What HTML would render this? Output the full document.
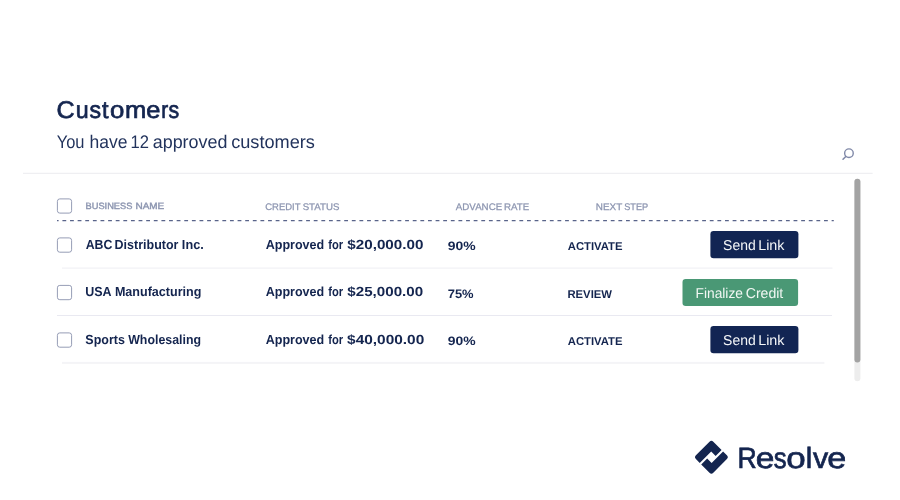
<!DOCTYPE html>
<html lang="en">
<head>
<meta charset="utf-8">
<title>Customers</title>
<style>
*{box-sizing:border-box;margin:0;padding:0}
html,body{width:900px;height:500px;background:#fff;overflow:hidden}
body{position:relative;font-family:"Liberation Sans",sans-serif;color:#14254f}
.t{position:absolute;left:0;white-space:nowrap;line-height:1;transform-origin:0 0;text-rendering:geometricPrecision}
#art{position:absolute;left:0;top:0}
</style>
</head>
<body>
<svg id="art" width="900" height="500" viewBox="0 0 900 500">
<!-- top rule -->
<rect x="23" y="172.8" width="849.6" height="1" fill="#ebebef"/>
<!-- search icon -->
<g fill="none" stroke="#8089a8" stroke-linecap="round">
<circle cx="848.95" cy="153.2" r="4.3" stroke-width="1.4"/>
<path d="M845.8 156.4 L843 159.3" stroke-width="1.5"/>
</g>
<!-- dashed header rule -->
<line x1="57" y1="220.55" x2="833.8" y2="220.55" stroke="#59648a" stroke-width="1.25" stroke-dasharray="3.808 3.808" stroke-dashoffset="2.2"/>
<!-- checkboxes -->
<g fill="#fff" stroke="#969db6" stroke-width="1">
<rect x="57.4" y="198.9" width="14.2" height="14.2" rx="2.4"/>
<rect x="57.4" y="237.9" width="14.2" height="14.3" rx="2.4"/>
<rect x="57.4" y="285.4" width="14.2" height="14.3" rx="2.4"/>
<rect x="57.4" y="332.9" width="14.2" height="14.3" rx="2.4"/>
</g>
<!-- row separators -->
<rect x="62" y="267.6" width="770.5" height="1" fill="#eeeef3"/>
<rect x="57" y="315" width="775" height="1" fill="#e9e9f1"/>
<rect x="62" y="361.9" width="762.4" height="2" fill="#f4f4f7"/>
<!-- buttons -->
<rect x="710.4" y="231.1" width="88" height="27.2" rx="3.2" fill="#122553"/>
<rect x="682.5" y="278.9" width="115.6" height="27" rx="3.2" fill="#4a9875"/>
<rect x="710.4" y="326.1" width="88" height="27.2" rx="3.2" fill="#122553"/>
<!-- scrollbar -->
<rect x="854.4" y="178.7" width="6" height="202.5" rx="3" fill="#ededed"/>
<rect x="854.4" y="178.7" width="6" height="183.7" rx="3" fill="#a3a3a3"/>
<!-- logo mark -->
<g transform="translate(711.4,457.2) rotate(-45)" fill="#14254f">
<path d="M-9.6 -12.3 H9.6 Q12.3 -12.3 12.3 -9.6 V2.1 H3.9 V-4.2 H-12.3 V-9.6 Q-12.3 -12.3 -9.6 -12.3 Z"/>
<path d="M9.6 12.3 H-9.6 Q-12.3 12.3 -12.3 9.6 V-2.1 H-3.9 V4.2 H12.3 V9.6 Q12.3 12.3 9.6 12.3 Z"/>
</g>
</svg>
<div class="g"><span class="t" id="t0" style="top:99px;font-size:24.09px;color:#14254f;-webkit-text-stroke:0.7px #14254f;transform:translateX(56.39px) scaleX(1.0432)">C</span><span class="t" id="t1" style="top:99px;font-size:24.09px;color:#14254f;-webkit-text-stroke:0.7px #14254f;transform:translateX(75.74px) scaleX(0.9650)">u</span><span class="t" id="t2" style="top:99px;font-size:24.09px;color:#14254f;-webkit-text-stroke:0.7px #14254f;transform:translateX(89.44px) scaleX(0.9598)">s</span><span class="t" id="t3" style="top:99px;font-size:24.09px;color:#14254f;-webkit-text-stroke:0.7px #14254f;transform:translateX(101.96px) scaleX(0.9733)">t</span><span class="t" id="t4" style="top:99px;font-size:24.09px;color:#14254f;-webkit-text-stroke:0.7px #14254f;transform:translateX(109.92px) scaleX(1.0690)">o</span><span class="t" id="t5" style="top:99px;font-size:24.09px;color:#14254f;-webkit-text-stroke:0.7px #14254f;transform:translateX(124.91px) scaleX(1.0615)">m</span><span class="t" id="t6" style="top:99px;font-size:24.09px;color:#14254f;-webkit-text-stroke:0.7px #14254f;transform:translateX(146.37px) scaleX(1.0554)">e</span><span class="t" id="t7" style="top:99px;font-size:24.09px;color:#14254f;-webkit-text-stroke:0.7px #14254f;transform:translateX(161.17px) scaleX(0.8655)">r</span><span class="t" id="t8" style="top:99px;font-size:24.09px;color:#14254f;-webkit-text-stroke:0.7px #14254f;transform:translateX(168.39px) scaleX(0.8872)">s</span></div>
<div class="g"><span class="t" id="t9" style="top:133px;font-size:18.25px;color:#22335c;transform:translateX(56.75px) scaleX(0.9009)">You</span> <span class="t" id="t10" style="top:133px;font-size:18.25px;color:#22335c;transform:translateX(89.57px) scaleX(0.9583)">have</span> <span class="t" id="t11" style="top:133px;font-size:18.25px;color:#22335c;transform:translateX(130.45px) scaleX(0.9086)">12</span> <span class="t" id="t12" style="top:133px;font-size:18.25px;color:#22335c;transform:translateX(152.74px) scaleX(0.9814)">approved</span> <span class="t" id="t13" style="top:133px;font-size:18.25px;color:#22335c;transform:translateX(231.19px) scaleX(0.9942)">customers</span></div>
<div class="g"><span class="t" id="t14" style="top:202px;font-size:9.20px;color:#8c95b0;-webkit-text-stroke:0.4px #8c95b0;transform:translateX(85.51px) scaleX(1.0084)">BUSINESS</span> <span class="t" id="t15" style="top:202px;font-size:9.20px;color:#8c95b0;-webkit-text-stroke:0.4px #8c95b0;transform:translateX(135.47px) scaleX(1.0835)">NAME</span></div>
<div class="g"><span class="t" id="t16" style="top:203px;font-size:9.56px;color:#8c95b0;-webkit-text-stroke:0.25px #8c95b0;transform:translateX(265.25px) scaleX(0.9906)">CREDIT</span> <span class="t" id="t17" style="top:203px;font-size:9.56px;color:#8c95b0;-webkit-text-stroke:0.25px #8c95b0;transform:translateX(302.65px) scaleX(1.0149)">STATUS</span></div>
<div class="g"><span class="t" id="t18" style="top:203px;font-size:9.56px;color:#8c95b0;-webkit-text-stroke:0.25px #8c95b0;transform:translateX(455.85px) scaleX(1.0190)">ADVANCE</span> <span class="t" id="t19" style="top:203px;font-size:9.56px;color:#8c95b0;-webkit-text-stroke:0.25px #8c95b0;transform:translateX(504.09px) scaleX(1.0176)">RATE</span></div>
<div class="g"><span class="t" id="t20" style="top:203px;font-size:9.56px;color:#8c95b0;-webkit-text-stroke:0.25px #8c95b0;transform:translateX(595.80px) scaleX(1.0367)">NEXT</span> <span class="t" id="t21" style="top:203px;font-size:9.56px;color:#8c95b0;-webkit-text-stroke:0.25px #8c95b0;transform:translateX(624.22px) scaleX(0.9629)">STEP</span></div>
<div class="g"><span class="t" id="t22" style="top:238px;font-size:13.14px;font-weight:bold;color:#14254f;transform:translateX(85.63px) scaleX(0.9393)">ABC</span> <span class="t" id="t23" style="top:238px;font-size:13.14px;font-weight:bold;color:#14254f;transform:translateX(114.61px) scaleX(0.9508)">Distributor</span> <span class="t" id="t24" style="top:238px;font-size:13.14px;font-weight:bold;color:#14254f;transform:translateX(181.85px) scaleX(0.9670)">Inc.</span></div>
<div class="g"><span class="t" id="t25" style="top:238px;font-size:13.14px;font-weight:bold;color:#14254f;transform:translateX(265.64px) scaleX(0.9566)">Approved</span> <span class="t" id="t26" style="top:238px;font-size:13.14px;font-weight:bold;color:#14254f;transform:translateX(328.17px) scaleX(0.8518)">for</span> <span class="t" id="t27" style="top:238px;font-size:13.14px;font-weight:bold;color:#14254f;transform:translateX(347.29px) scaleX(1.1593)">$20,000.00</span></div>
<div class="g"><span class="t" id="t28" style="top:240px;font-size:12.26px;font-weight:bold;color:#14254f;transform:translateX(447.84px) scaleX(1.1354)">90%</span></div>
<div class="g"><span class="t" id="t29" style="top:242px;font-size:11.39px;font-weight:bold;color:#14254f;transform:translateX(567.78px) scaleX(0.9925)">ACTIVATE</span></div>
<div class="g"><span class="t" id="t30" style="top:239px;font-size:14.31px;color:#f4f6f8;transform:translateX(723.07px) scaleX(0.9777)">Send</span> <span class="t" id="t31" style="top:239px;font-size:14.31px;color:#f4f6f8;transform:translateX(758.16px) scaleX(1.0034)">Link</span></div>
<div class="g"><span class="t" id="t32" style="top:285px;font-size:13.14px;font-weight:bold;color:#14254f;transform:translateX(85.21px) scaleX(0.9524)">USA</span> <span class="t" id="t33" style="top:285px;font-size:13.14px;font-weight:bold;color:#14254f;transform:translateX(114.89px) scaleX(0.9568)">Manufacturing</span></div>
<div class="g"><span class="t" id="t34" style="top:285px;font-size:13.14px;font-weight:bold;color:#14254f;transform:translateX(265.64px) scaleX(0.9566)">Approved</span> <span class="t" id="t35" style="top:285px;font-size:13.14px;font-weight:bold;color:#14254f;transform:translateX(328.17px) scaleX(0.8518)">for</span> <span class="t" id="t36" style="top:285px;font-size:13.14px;font-weight:bold;color:#14254f;transform:translateX(347.30px) scaleX(1.1547)">$25,000.00</span></div>
<div class="g"><span class="t" id="t37" style="top:288px;font-size:12.26px;font-weight:bold;color:#14254f;transform:translateX(447.71px) scaleX(1.0559)">75%</span></div>
<div class="g"><span class="t" id="t38" style="top:290px;font-size:11.39px;font-weight:bold;color:#14254f;transform:translateX(567.42px) scaleX(0.9931)">REVIEW</span></div>
<div class="g"><span class="t" id="t39" style="top:287px;font-size:14.31px;color:#f1f7f3;transform:translateX(695.48px) scaleX(0.9644)">Finalize</span> <span class="t" id="t40" style="top:287px;font-size:14.31px;color:#f1f7f3;transform:translateX(745.72px) scaleX(0.9850)">Credit</span></div>
<div class="g"><span class="t" id="t41" style="top:333px;font-size:13.14px;font-weight:bold;color:#14254f;transform:translateX(85.34px) scaleX(0.9500)">Sports</span> <span class="t" id="t42" style="top:333px;font-size:13.14px;font-weight:bold;color:#14254f;transform:translateX(128.15px) scaleX(0.9426)">Wholesaling</span></div>
<div class="g"><span class="t" id="t43" style="top:333px;font-size:13.14px;font-weight:bold;color:#14254f;transform:translateX(265.64px) scaleX(0.9566)">Approved</span> <span class="t" id="t44" style="top:333px;font-size:13.14px;font-weight:bold;color:#14254f;transform:translateX(328.17px) scaleX(0.8518)">for</span> <span class="t" id="t45" style="top:333px;font-size:13.14px;font-weight:bold;color:#14254f;transform:translateX(347.10px) scaleX(1.1744)">$40,000.00</span></div>
<div class="g"><span class="t" id="t46" style="top:335px;font-size:12.26px;font-weight:bold;color:#14254f;transform:translateX(447.84px) scaleX(1.1354)">90%</span></div>
<div class="g"><span class="t" id="t47" style="top:337px;font-size:11.39px;font-weight:bold;color:#14254f;transform:translateX(567.78px) scaleX(0.9925)">ACTIVATE</span></div>
<div class="g"><span class="t" id="t48" style="top:334px;font-size:14.31px;color:#f4f6f8;transform:translateX(723.07px) scaleX(0.9777)">Send</span> <span class="t" id="t49" style="top:334px;font-size:14.31px;color:#f4f6f8;transform:translateX(758.16px) scaleX(1.0034)">Link</span></div>
<div class="g"><span class="t" id="t50" style="top:444px;font-size:29.34px;color:#14254f;-webkit-text-stroke:0.7px #14254f;transform:translateX(737.60px) scaleX(0.9072)">R</span><span class="t" id="t51" style="top:444px;font-size:29.34px;color:#14254f;-webkit-text-stroke:0.7px #14254f;transform:translateX(755.74px) scaleX(1.1395)">e</span><span class="t" id="t52" style="top:444px;font-size:29.34px;color:#14254f;-webkit-text-stroke:0.7px #14254f;transform:translateX(773.85px) scaleX(0.8771)">s</span><span class="t" id="t53" style="top:444px;font-size:29.34px;color:#14254f;-webkit-text-stroke:0.7px #14254f;transform:translateX(786.14px) scaleX(1.1908)">o</span><span class="t" id="t54" style="top:444px;font-size:29.34px;color:#14254f;-webkit-text-stroke:0.7px #14254f;transform:translateX(805.71px) scaleX(0.9990)">l</span><span class="t" id="t55" style="top:444px;font-size:29.34px;color:#14254f;-webkit-text-stroke:0.7px #14254f;transform:translateX(813.07px) scaleX(1.0330)">v</span><span class="t" id="t56" style="top:444px;font-size:29.34px;color:#14254f;-webkit-text-stroke:0.7px #14254f;transform:translateX(827.31px) scaleX(1.1618)">e</span></div>
</body>
</html>
